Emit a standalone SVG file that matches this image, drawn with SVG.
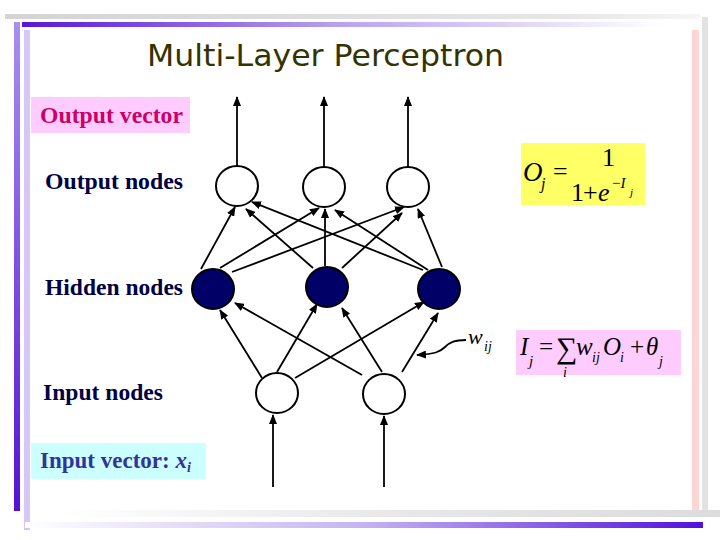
<svg xmlns="http://www.w3.org/2000/svg" width="720" height="540" viewBox="0 0 720 540">
<defs>
<linearGradient id="gTopGray" x1="0" y1="0" x2="1" y2="0"><stop offset="0" stop-color="#d4d4d4"/><stop offset="0.8" stop-color="#e6e6e6"/><stop offset="1" stop-color="#f6f6f6"/></linearGradient>
<linearGradient id="gTopPurple" x1="0" y1="0" x2="1" y2="0"><stop offset="0" stop-color="#5a16d8"/><stop offset="0.5" stop-color="#b8a4ee"/><stop offset="1" stop-color="#ffffff"/></linearGradient>
<linearGradient id="gLeft" x1="0" y1="0" x2="0" y2="1"><stop offset="0" stop-color="#a890ee"/><stop offset="1" stop-color="#5412d4"/></linearGradient>
<linearGradient id="gBotGray" x1="0" y1="0" x2="1" y2="0"><stop offset="0" stop-color="#ffffff"/><stop offset="0.5" stop-color="#e8e8e8"/><stop offset="1" stop-color="#dcdcdc"/></linearGradient>
<linearGradient id="gBotPurple" x1="0" y1="0" x2="1" y2="0"><stop offset="0" stop-color="#ffffff"/><stop offset="0.5" stop-color="#c4b4f2"/><stop offset="1" stop-color="#5410dc"/></linearGradient>
<marker id="arr" markerUnits="userSpaceOnUse" markerWidth="10" markerHeight="8" refX="9" refY="4" orient="auto"><path d="M0,0 L10,4 L0,8 z" fill="#000"/></marker>
<style>
.lbl{font-family:"Liberation Serif","Times New Roman",serif;font-weight:bold;font-size:23px;fill:#000044}
.math{font-family:"Liberation Serif","Times New Roman",serif;fill:#000}
.it{font-style:italic}
.edge{stroke:#000;stroke-width:1.8;fill:none;marker-end:url(#arr)}
.open{fill:#fff;stroke:#000;stroke-width:2}
.hid{fill:#000066;stroke:#000;stroke-width:2}
</style>
</defs>
<rect width="720" height="540" fill="#fff"/>
<g id="frame">
<rect x="5" y="14" width="695" height="5" fill="url(#gTopGray)"/>
<rect x="22" y="22" width="640" height="5" fill="url(#gTopPurple)"/>
<rect x="14" y="22" width="6" height="489" fill="url(#gLeft)"/>
<rect x="24" y="30" width="6" height="500" fill="#d6c8f6"/>
<rect x="692" y="30" width="7" height="480" fill="#ffd4d4"/>
<rect x="702" y="17" width="6" height="495" fill="#e2e2e2"/>
<rect x="60" y="510" width="660" height="7" fill="url(#gBotGray)"/>
<rect x="25" y="522" width="678" height="6" fill="url(#gBotPurple)"/>
</g>
<text id="title" x="147" y="66" font-family="'DejaVu Sans',Verdana,sans-serif" font-size="31" fill="#333300" textLength="357" lengthAdjust="spacingAndGlyphs">Multi-Layer Perceptron</text>
<g id="output-vector">
<rect x="31" y="97" width="159" height="36" fill="#ffccff"/>
<text x="40" y="123" class="lbl" style="fill:#cc0066" textLength="143" lengthAdjust="spacingAndGlyphs">Output vector</text>
</g>
<text id="lbl-output" x="45" y="189" class="lbl" textLength="138" lengthAdjust="spacingAndGlyphs">Output nodes</text>
<text id="lbl-hidden" x="45" y="295" class="lbl" textLength="138" lengthAdjust="spacingAndGlyphs">Hidden nodes</text>
<text id="lbl-input" x="43" y="400" class="lbl" textLength="120" lengthAdjust="spacingAndGlyphs">Input nodes</text>
<g id="input-vector">
<rect x="31" y="443" width="175" height="36" fill="#ccffff"/>
<text x="40" y="468" class="lbl" style="fill:#333399">Input vector: <tspan font-style="italic">x</tspan><tspan font-style="italic" font-size="14" dy="4">i</tspan></text>
</g>
<g id="formula-output">
<rect x="521" y="143" width="124" height="62" fill="#ffff66"/>
<text class="math it" x="523" y="181" font-size="27">O</text>
<text class="math it" x="541" y="189" font-size="16">j</text>
<text class="math" x="553" y="180" font-size="26">=</text>
<text class="math" x="602" y="166" font-size="26">1</text>
<text class="math" x="571" y="201" font-size="26">1</text>
<text class="math" x="583" y="201" font-size="26">+</text>
<text class="math it" x="598" y="201" font-size="26">e</text>
<text class="math" x="612" y="188" font-size="15">−<tspan font-style="italic">I</tspan></text>
<text class="math it" x="630" y="196" font-size="11">j</text>
</g>
<g id="formula-input">
<rect x="516" y="330" width="165" height="45" fill="#ffccff"/>
<text class="math it" x="520" y="355" font-size="25">I</text>
<text class="math it" x="529" y="366" font-size="15">j</text>
<text class="math" x="539" y="355" font-size="25">=</text>
<text class="math" x="556" y="358" font-size="30">∑</text>
<text class="math it" x="563" y="377" font-size="14">i</text>
<text class="math it" x="576" y="355" font-size="25">w</text>
<text class="math it" x="592" y="362" font-size="14">ij</text>
<text class="math it" x="603" y="355" font-size="25">O</text>
<text class="math it" x="620" y="362" font-size="14">i</text>
<text class="math" x="630" y="355" font-size="25">+</text>
<text class="math it" x="646" y="355" font-size="25">θ</text>
<text class="math it" x="659" y="366" font-size="14">j</text>
</g>
<g id="weight-label">
<text class="math it" x="468" y="344" font-size="22">w</text>
<text class="math it" x="484" y="351" font-size="14">ij</text>
</g>
<g id="connectors">
<line class="edge" x1="237" y1="166" x2="237" y2="97"/>
<line class="edge" x1="324" y1="167" x2="324" y2="97"/>
<line class="edge" x1="408" y1="167" x2="408" y2="97"/>
<line class="edge" x1="201" y1="269" x2="235" y2="207"/>
<line class="edge" x1="220" y1="268" x2="319" y2="208"/>
<line class="edge" x1="232" y1="272" x2="404" y2="207"/>
<line class="edge" x1="313" y1="268" x2="246" y2="209"/>
<line class="edge" x1="325" y1="266" x2="325" y2="209"/>
<line class="edge" x1="342" y1="268" x2="402" y2="213"/>
<line class="edge" x1="423" y1="270" x2="252" y2="202"/>
<line class="edge" x1="428" y1="270" x2="335" y2="210"/>
<line class="edge" x1="442" y1="267" x2="418" y2="209"/>
<line class="edge" x1="262" y1="378" x2="220" y2="310"/>
<line class="edge" x1="277" y1="372" x2="317" y2="304"/>
<line class="edge" x1="295" y1="378" x2="424" y2="302"/>
<line class="edge" x1="362" y1="375" x2="235" y2="303"/>
<line class="edge" x1="382" y1="372" x2="342" y2="308"/>
<line class="edge" x1="402" y1="372" x2="438" y2="313"/>
<line class="edge" x1="273" y1="487" x2="273" y2="415"/>
<line class="edge" x1="384" y1="487" x2="384" y2="416"/>
<path class="edge" d="M466,340 C455,340 450,342 445,347 C440,352 435,354 417,355"/>
</g>
<g id="out1"><ellipse class="open" cx="237" cy="186" rx="21" ry="20"/></g>
<g id="out2"><ellipse class="open" cx="324" cy="187" rx="21" ry="20"/></g>
<g id="out3"><ellipse class="open" cx="408" cy="187" rx="21" ry="20"/></g>
<g id="hid1"><ellipse class="hid" cx="213" cy="289" rx="21" ry="20"/></g>
<g id="hid2"><ellipse class="hid" cx="327" cy="287" rx="21" ry="20"/></g>
<g id="hid3"><ellipse class="hid" cx="439" cy="289" rx="21" ry="20"/></g>
<g id="in1"><ellipse class="open" cx="277" cy="393" rx="21" ry="20"/></g>
<g id="in2"><ellipse class="open" cx="384" cy="394" rx="21" ry="20"/></g>
</svg>
